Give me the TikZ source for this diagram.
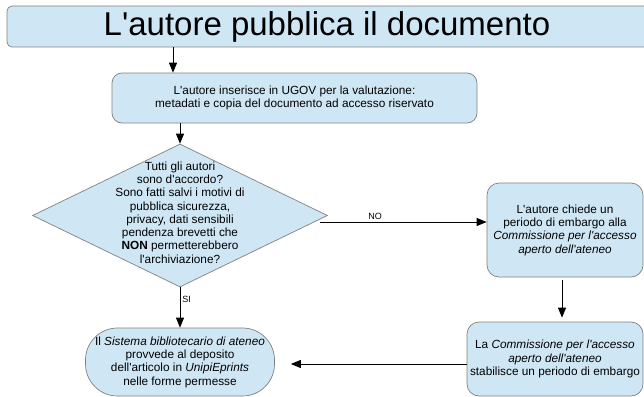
\documentclass[tikz,border=0pt]{standalone}
\usepackage{fontspec}
\setmainfont{Liberation Sans}[Ligatures=TeXOff]
\usepackage{tikz}
\usetikzlibrary{arrows.meta, positioning, shapes.geometric}

\definecolor{boxblue}{RGB}{207,231,245}
\definecolor{boxline}{RGB}{128,128,128}

\begin{document}
\begin{tikzpicture}[
    x=1pt, y=-1pt,
    box/.style={
        draw=boxline,
        fill=boxblue,
        line width=0.7pt,
        rounded corners=10pt,
        align=center,
        inner sep=2pt,
        font=\fontsize{11.8}{13.3}\selectfont
    },
    decision/.style={
        draw=boxline,
        fill=boxblue,
        line width=0.7pt,
        diamond,
        inner sep=0pt
    },
    arr/.style={-{Triangle[length=10pt,width=8pt]}, line width=0.9pt},
    lbl/.style={font=\fontsize{9}{10}\selectfont, inner sep=1pt}
]
    \useasboundingbox (0,0) rectangle (644,396);
    \clip (0,0) rectangle (644,396);

    \node[
        box,
        rounded corners=5pt,
        minimum width=670pt,
        minimum height=41pt,
        font=\fontsize{33}{36}\selectfont
    ] (title) at (342,26.5) {L'autore pubblica il documento\hspace*{30pt}};
    \node[
        box,
        minimum width=365pt,
        minimum height=50pt
    ] (ugov) at (294.5,98)
        {L'autore inserisce in UGOV per la valutazione:\\
         metadati e copia del documento ad accesso riservato};

    % decision
    \node[
        decision,
        minimum width=295pt,
        minimum height=143pt
    ] (check) at (180,215.5) {};
    \node[align=center, font=\fontsize{11.8}{13.3}\selectfont] (checktext) at (180,212.5)
        {Tutti gli autori\\ sono d'accordo?\\ Sono fatti salvi i motivi di\\
         pubblica sicurezza,\\ privacy, dati sensibili\\ pendenza brevetti che\\
         \textbf{NON} permetterebbero\\ l'archiviazione?};

    \node[
        box,
        rounded corners=12pt,
        minimum width=156pt,
        minimum height=94pt
    ] (embargo) at (565,230)
        {L'autore chiede un\\ periodo di embargo alla\\
         \textit{Commissione per l'accesso}\\ \textit{aperto dell'ateneo}};
    \node[
        box,
        rounded corners=12pt,
        minimum width=176pt,
        minimum height=74pt
    ] (period) at (555,359)
        {La \textit{Commissione per l'accesso}\\ \textit{aperto dell'ateneo}\\
         stabilisce un periodo di embargo};
    \node[
        box,
        rounded corners=32pt,
        minimum width=189pt,
        minimum height=68pt
    ] (deposit) at (180,362)
        {Il \textit{Sistema bibliotecario di ateneo}\\ provvede al deposito\\
         dell'articolo in \textit{UnipiEprints}\\ nelle forme permesse};

    \coordinate (noout) at (320,222);

    \draw[arr] ([xshift=-121.5pt]ugov.north |- title.south) -- ([xshift=-121.5pt]ugov.north);
    \draw[arr] (check.north |- ugov.south) -- (check.north);
    \draw[arr] (check.south) -- (deposit.north)
        node[lbl, pos=0.3, anchor=west, xshift=1pt] (si) {SI};
    \draw[arr] (noout) -- (noout -| embargo.west)
        node[lbl, pos=0.33, anchor=south, yshift=1pt] (no) {NO};
    \draw[arr, shorten <=3pt, shorten >=4pt] ([xshift=-3pt]embargo.south) -- ([xshift=-3pt]embargo.south |- period.north);
    \draw[arr, shorten >=16pt] ([yshift=-5pt]period.west) -- ([yshift=-5pt]period.west -| deposit.east);
\end{tikzpicture}
\end{document}
